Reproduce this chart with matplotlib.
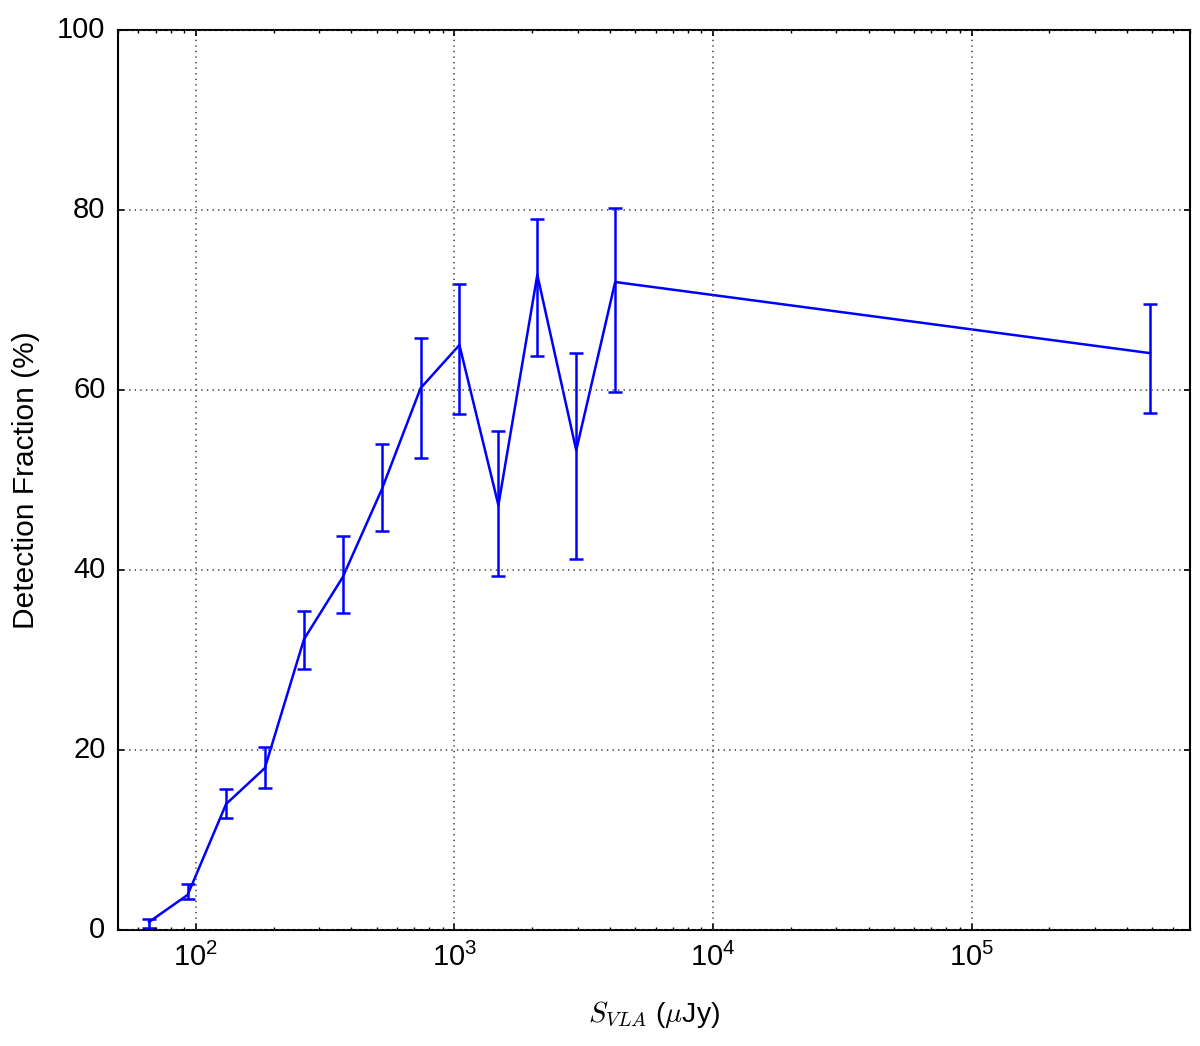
import numpy as np
import matplotlib
matplotlib.use('Agg')
import matplotlib.pyplot as plt

plt.style.use('classic')
plt.rcParams['font.family'] = ['Liberation Sans', 'DejaVu Sans']
plt.rcParams['mathtext.fontset'] = 'cm'
plt.rcParams['axes.linewidth'] = 1.5

# flux bins (uJy) and detection fraction (%)
flux = [66, 93, 131, 185, 262, 370, 523, 740, 1046, 1480, 2093, 2960, 4186, 490000]
frac = [0.9, 3.9, 14.0, 18.0, 32.3, 39.2, 48.9, 60.2, 65.0, 47.2, 72.8, 53.3, 72.0, 64.1]
err_lo = [0.2, 3.4, 12.5, 15.8, 29.0, 35.2, 44.3, 52.4, 57.3, 39.3, 63.8, 41.2, 59.8, 57.4]
err_hi = [1.2, 5.1, 15.7, 20.3, 35.5, 43.8, 54.0, 65.8, 71.8, 55.4, 79.0, 64.1, 80.2, 69.6]

frac = np.array(frac)
yerr = [frac - np.array(err_lo), np.array(err_hi) - frac]

fig = plt.figure(figsize=(12, 10.46), dpi=100, facecolor='white')
ax = fig.add_axes([0.0983, 0.1109, 0.8934, 0.8604])
ax.errorbar(flux, frac, yerr=yerr, color='b', lw=1.8, capsize=5, mew=1.8)
ax.set_xscale('log')
ax.set_xlim(50, 7e5)
ax.set_ylim(0, 100)
ax.grid(True, color='0.3', lw=1.2)
ax.tick_params(labelsize=21, pad=9, width=1.2)
ax.tick_params(which='minor', width=1.0)
ax.set_xlabel(r'$S_{VLA}$ ($\mu$Jy)', fontsize=20.5, labelpad=20)
ax.set_ylabel('Detection Fraction (%)', fontsize=21.5, labelpad=12)

fig.savefig('out.png', dpi=100, facecolor='white')
